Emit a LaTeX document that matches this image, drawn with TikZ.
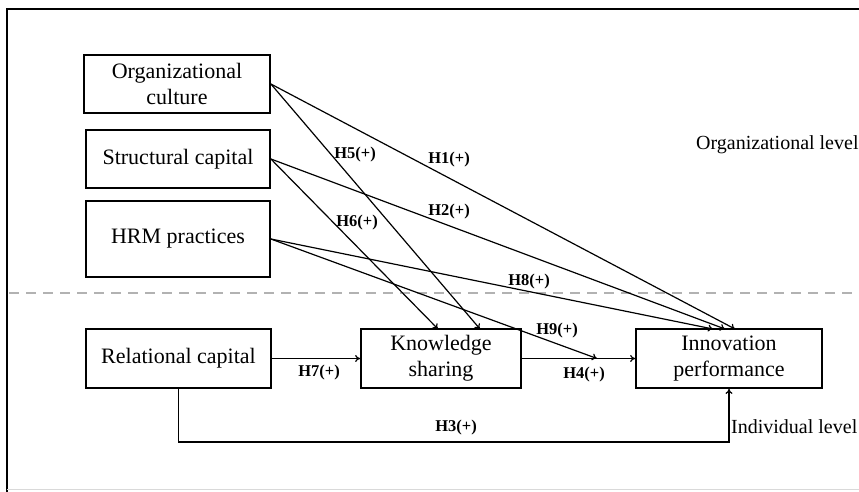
\documentclass[tikz,border=0pt]{standalone}
\usepackage{fontspec}
\setmainfont{Liberation Serif}
\usetikzlibrary{arrows.meta}
\begin{document}
\begin{tikzpicture}[x=1pt,y=-1pt,
  box/.style={draw,line width=1.8pt,minimum width=#1,inner sep=0pt,align=center,
    font=\fontsize{22}{26}\selectfont},
  arr/.style={line width=1.2pt,-{To[length=5pt,width=7pt]}},
  lab/.style={font=\fontsize{16.5}{18}\selectfont\bfseries,inner sep=0pt},
  lvl/.style={font=\fontsize{20}{24}\selectfont,inner sep=0pt,anchor=west}]
\useasboundingbox (0,0) rectangle (859,491);
% frame
\draw[line width=2.5pt] (7,495) -- (7,9) -- (870,9);
\draw[line width=0.8pt,gray!30] (7,489.5) -- (870,489.5);
% dashed level separator
\draw[gray!60,line width=1.6pt,dash pattern=on 10pt off 7pt] (9,293) -- (859,293);
% nodes
\node[box=186pt,minimum height=58pt] (oc) at (177,84) {Organizational\\culture};
\node[box=184pt,minimum height=58pt] (sc) at (178,159) {Structural capital};
\node[box=184pt,minimum height=76pt] (hrm) at (178,239) {HRM practices};
\node[box=185pt,minimum height=59pt] (rc) at (178.5,358.5) {Relational capital};
\node[box=160pt,minimum height=59pt] (ks) at (441,358.5) {Knowledge\\sharing};
\node[box=186pt,minimum height=59pt] (ip) at (729,358.5) {Innovation\\performance};
% target coordinates
\coordinate (ksA) at (438,329);
\coordinate (ksB) at (480,329);
\coordinate (ipA) at (713,329);
\coordinate (ipB) at (725,329);
\coordinate (ipC) at (735,329);
\coordinate (h9end) at (597,358.5);
% connectors
\draw[arr] (oc.east) -- (ipC);
\draw[arr] (oc.east) -- (ksB);
\draw[arr] (sc.east) -- (ipB);
\draw[arr] (sc.east) -- (ksA);
\draw[arr] (hrm.east) -- (ipA);
\draw[arr] (hrm.east) -- (h9end);
\draw[arr] (rc.east) -- (ks.west);
\draw[arr] (ks.east) -- (ip.west);
\draw[arr] (rc.south) -- ++(0,53) -| (ip.south);
% labels
\node[lab] at (355,155) {H5(+)};
\node[lab] at (449,160) {H1(+)};
\node[lab] at (357,223) {H6(+)};
\node[lab] at (449,212) {H2(+)};
\node[lab] at (529,282) {H8(+)};
\node[lab] at (557,331) {H9(+)};
\node[lab] at (319,373) {H7(+)};
\node[lab] at (584,375) {H4(+)};
\node[lab] at (456,428) {H3(+)};
\node[lvl] at (696,145) {Organizational level};
\node[lvl] at (731,427) {Individual level};
\end{tikzpicture}
\end{document}
